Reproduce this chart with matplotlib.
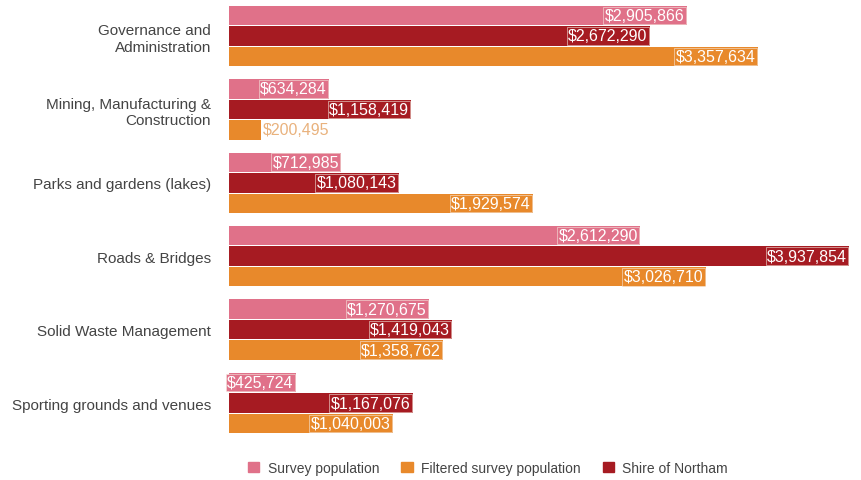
import numpy as np
import matplotlib
matplotlib.use("Agg")
import matplotlib.pyplot as plt
from matplotlib.patches import Patch

plt.rcParams["font.family"] = ["Liberation Sans", "DejaVu Sans"]

categories = ["Governance and\nAdministration", "Mining, Manufacturing &\nConstruction",
              "Parks and gardens (lakes)", "Roads & Bridges",
              "Solid Waste Management", "Sporting grounds and venues"]
survey = [2905866, 634284, 712985, 2612290, 1270675, 425724]
northam = [2672290, 1158419, 1080143, 3937854, 1419043, 1167076]
filtered = [3357634, 200495, 1929574, 3026710, 1358762, 1040003]

C_SURVEY = "#e07189"
C_NORTHAM = "#a61b22"
C_FILTERED = "#e8892b"

fig = plt.figure(figsize=(8.62, 4.81), dpi=100)
ax = fig.add_axes([229 / 862, 1 - 440 / 481, 630 / 862, 440 / 481])

y = np.arange(len(categories))
off = 0.28
h = 0.265
series = [(survey, -off, C_SURVEY), (northam, 0, C_NORTHAM), (filtered, off, C_FILTERED)]

for vals, dy, col in series:
    bars = ax.barh(y + dy, vals, height=h, color=col)
    for b, v in zip(bars, vals):
        txt = f"${v:,.0f}"
        yc = b.get_y() + b.get_height() / 2
        if v < 400000:
            ax.text(v * 1.02 + 10000, yc, txt, ha="left", va="center",
                    fontsize=11.5, color="#e9b27d")
        else:
            ax.text(v - 15000, yc, txt, ha="right", va="center", fontsize=11.5,
                    color="white",
                    bbox=dict(boxstyle="square,pad=0.08", facecolor=col,
                              edgecolor="#f5e9de", linewidth=0.4))

ax.set_xlim(0, 4.0e6)
ax.set_ylim(5.49, -0.504)
ax.set_yticks(y)
ax.set_yticklabels(categories, fontsize=11, color="#444444")
ax.tick_params(axis="y", length=0, pad=13)
ax.set_xticks([])
for s in ax.spines.values():
    s.set_visible(False)

handles = [Patch(color=C_SURVEY, label="Survey population"),
           Patch(color=C_FILTERED, label="Filtered survey population"),
           Patch(color=C_NORTHAM, label="Shire of Northam")]
fig.legend(handles=handles, loc="center", bbox_to_anchor=(488 / 862, 1 - 469 / 481),
           ncol=3, frameon=False, fontsize=10, handlelength=0.8, handleheight=0.8,
           columnspacing=1.6, handletextpad=0.6, labelcolor="#444444")

fig.savefig("out.png", dpi=100, facecolor="white")
